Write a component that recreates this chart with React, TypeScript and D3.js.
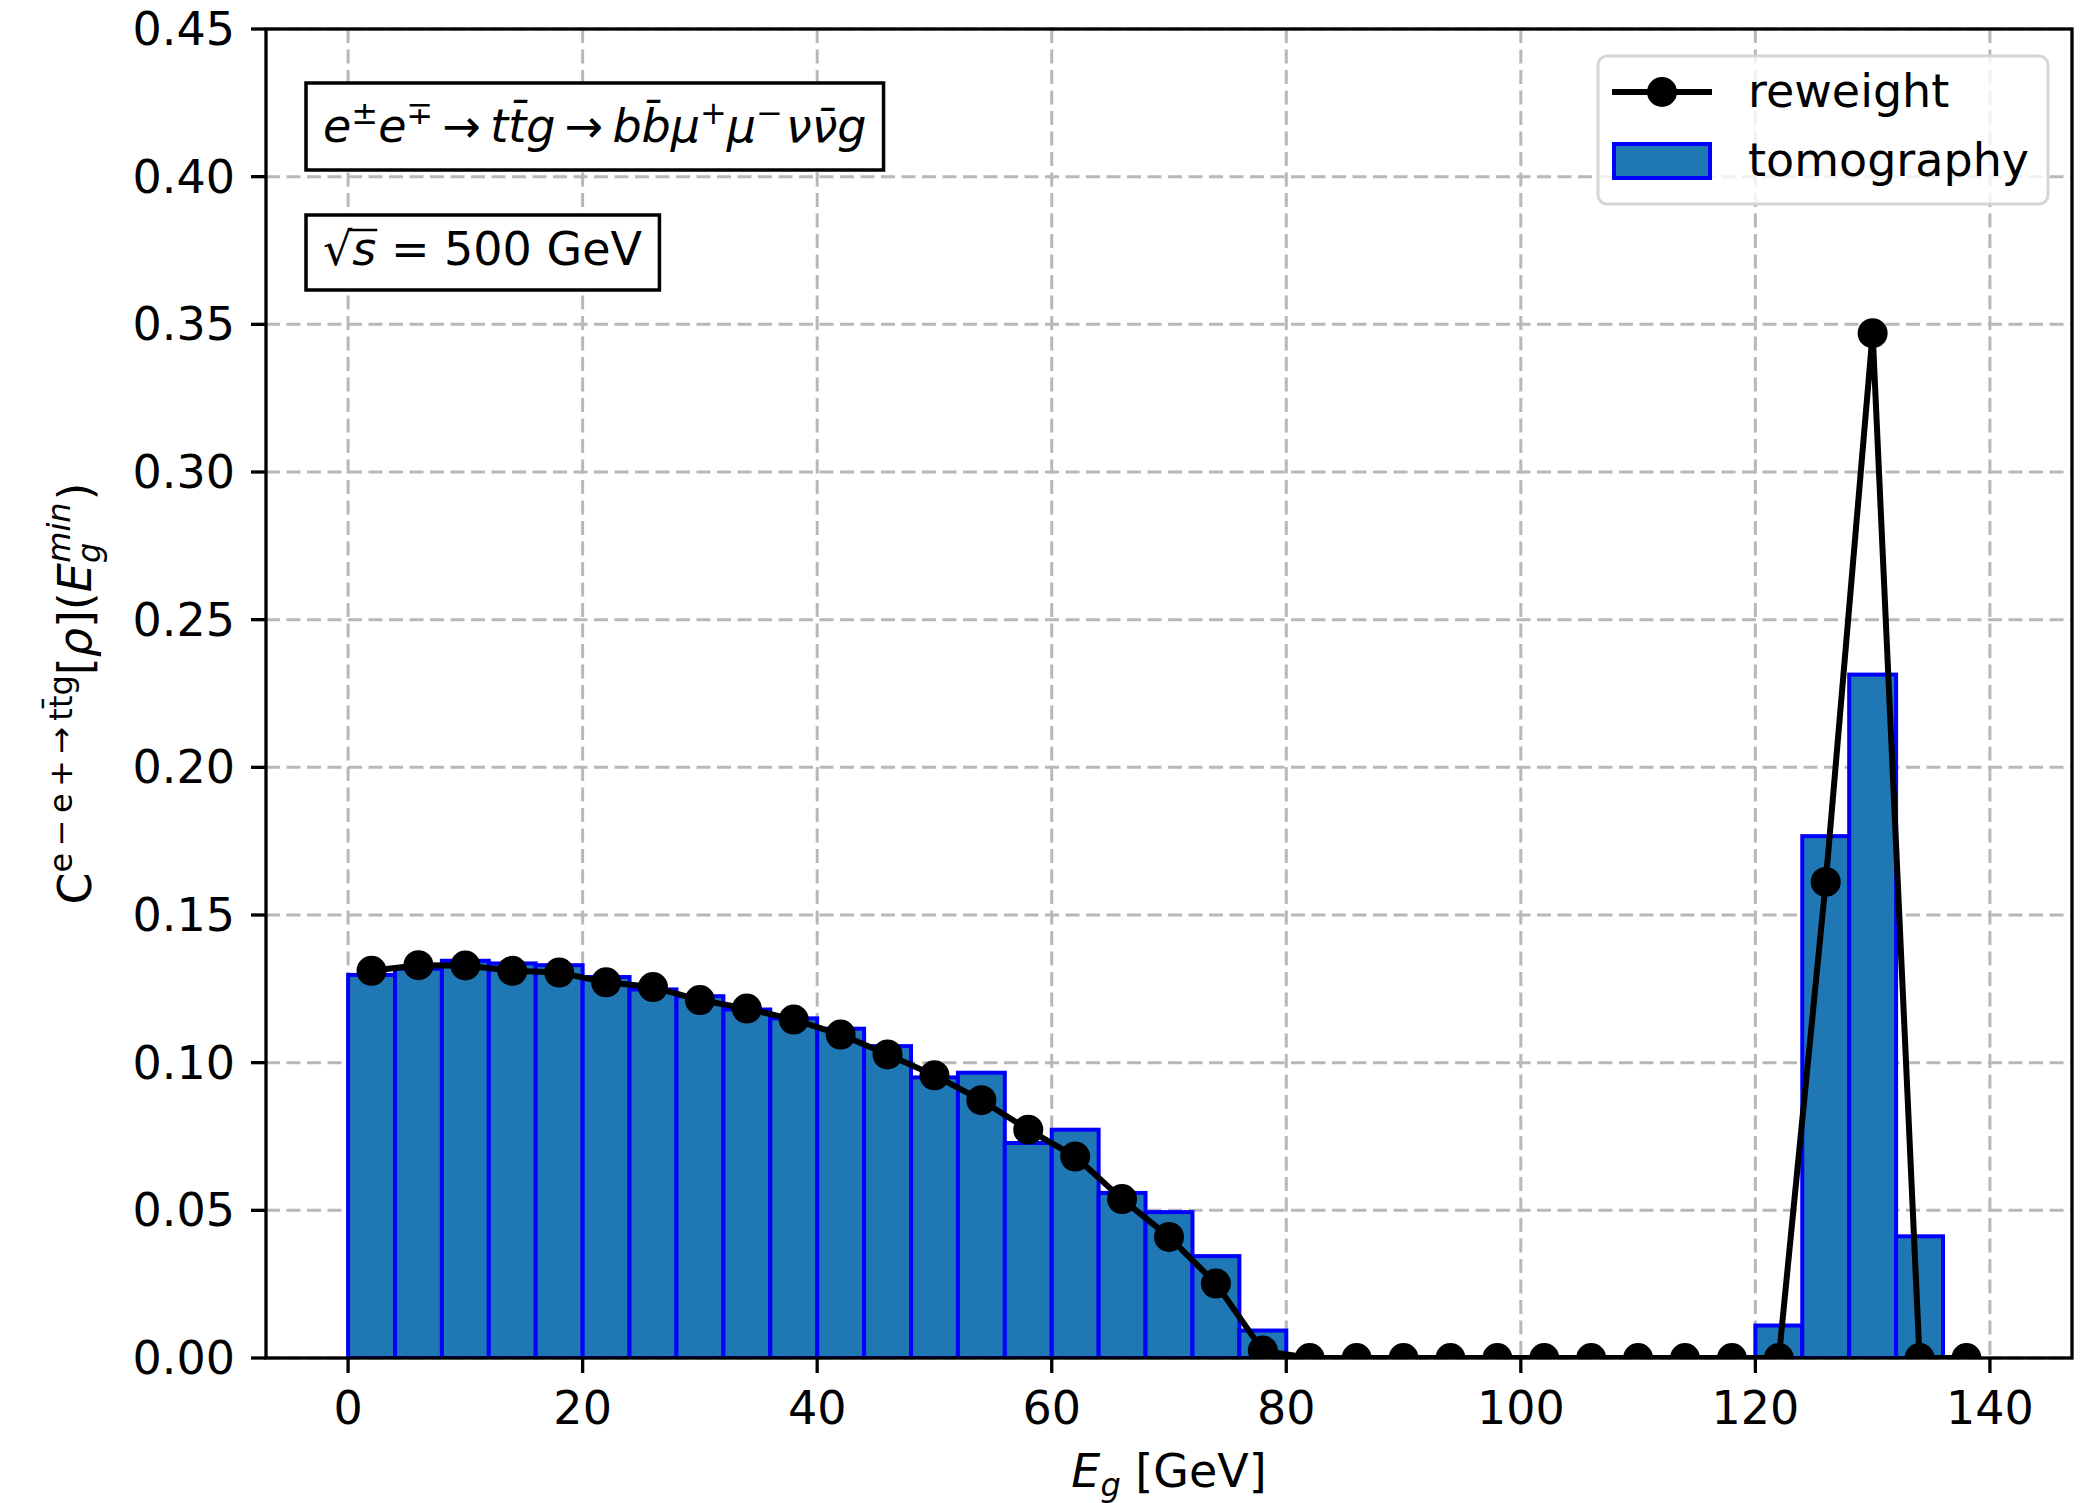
import React, { useLayoutEffect, useRef, useState } from "react";
import * as d3 from "d3";

// ---------- data ----------
const binStarts = [
  0, 4, 8, 12, 16, 20, 24, 28, 32, 36, 40, 44, 48, 52, 56, 60, 64, 68, 72, 76,
  80, 84, 88, 92, 96, 100, 104, 108, 112, 116,
  120, 124, 128, 132, 136,
];
const binWidth = 4;
const tomography = [
  0.1297, 0.1318, 0.1345, 0.1336, 0.133, 0.129, 0.1248, 0.1225, 0.118, 0.115,
  0.1115, 0.1056, 0.095, 0.0966, 0.0728, 0.0773, 0.0559, 0.0494, 0.0345, 0.0093,
  0, 0, 0, 0, 0, 0, 0, 0, 0, 0,
  0.011, 0.1767, 0.2314, 0.0412, 0,
];
const pointX = [
  2, 6, 10, 14, 18, 22, 26, 30, 34, 38, 42, 46, 50, 54, 58, 62, 66, 70, 74, 78,
  82, 86, 90, 94, 98, 102, 106, 110, 114, 118,
  122, 126, 130, 134, 138,
];
const reweight = [
  0.1311, 0.133, 0.1329, 0.1311, 0.1305, 0.1272, 0.1256, 0.1212, 0.1183, 0.1146,
  0.1095, 0.1028, 0.0957, 0.0873, 0.0773, 0.0682, 0.0538, 0.041, 0.0252, 0.0025,
  0, 0, 0, 0, 0, 0, 0, 0, 0, 0,
  0, 0.1612, 0.347, 0, 0,
];
const xTicks = [0, 20, 40, 60, 80, 100, 120, 140];
const yTicks = [0, 0.05, 0.1, 0.15, 0.2, 0.25, 0.3, 0.35, 0.4, 0.45];
const legendLabels = ["reweight", "tomography"];

// ---------- layout ----------
const W = 2090;
const H = 1503;
const M = { left: 266, right: 2072, top: 29, bottom: 1358 };
const FONT = "'DejaVu Sans', sans-serif";
const FS = 46;
const SS = 32;
const BAR_FILL = "#1f77b4";
const BAR_EDGE = "#0000ff";

export default function App() {
  const x = d3.scaleLinear().domain([-7, 147]).range([M.left, M.right]);
  const y = d3.scaleLinear().domain([0, 0.45]).range([M.bottom, M.top]);

  const line = d3
    .line<number>()
    .x((_, i) => x(pointX[i]))
    .y((d) => y(d));

  const t1 = useRef<SVGTextElement>(null);
  const t2 = useRef<SVGTextElement>(null);
  const [w1, setW1] = useState(555);
  const [w2, setW2] = useState(318);
  const [vinc, setVinc] = useState<[number, number]>([345, 370]);
  useLayoutEffect(() => {
    if (t1.current) setW1(t1.current.getBBox().width);
    if (t2.current) {
      setW2(t2.current.getBBox().width);
      try {
        const e0 = t2.current.getExtentOfChar(0);
        const e1 = t2.current.getExtentOfChar(1);
        setVinc([e0.x + e0.width - 3, e1.x + e1.width + 1]);
      } catch (err) {
        /* ignore */
      }
    }
  }, []);

  const pad = 17;
  const boxX = 306;

  return (
    <svg
      width={W}
      height={H}
      style={{ position: "absolute", left: 0, top: 0, display: "block", background: "#fff" }}
      fontFamily={FONT}
    >
      <defs>
        <clipPath id="plotclip">
          <rect x={M.left} y={M.top} width={M.right - M.left} height={M.bottom - M.top} />
        </clipPath>
      </defs>
      <rect x={0} y={0} width={W} height={H} fill="#fff" />

      {/* grid */}
      <g stroke="#b8b8b8" strokeWidth={3} strokeDasharray="14,6.5">
        {xTicks.map((t) => (
          <line key={"gx" + t} x1={x(t)} x2={x(t)} y1={M.top} y2={M.bottom} />
        ))}
        {yTicks.map((t) => (
          <line key={"gy" + t} x1={M.left} x2={M.right} y1={y(t)} y2={y(t)} />
        ))}
      </g>

      {/* bars */}
      <g clipPath="url(#plotclip)">
        {binStarts.map((b, i) =>
          tomography[i] > 0 ? (
            <rect
              key={"b" + i}
              x={x(b)}
              y={y(tomography[i])}
              width={x(b + binWidth) - x(b)}
              height={y(0) - y(tomography[i])}
              fill={BAR_FILL}
              stroke={BAR_EDGE}
              strokeWidth={4}
            />
          ) : null
        )}
      </g>

      {/* line + markers */}
      <g clipPath="url(#plotclip)">
        <path d={line(reweight) || ""} fill="none" stroke="#000" strokeWidth={6} strokeLinejoin="round" />
        {reweight.map((v, i) => (
          <circle key={"p" + i} cx={x(pointX[i])} cy={y(v)} r={15} fill="#000" />
        ))}
      </g>

      {/* spines */}
      <rect
        x={M.left}
        y={M.top}
        width={M.right - M.left}
        height={M.bottom - M.top}
        fill="none"
        stroke="#000"
        strokeWidth={3.3}
      />

      {/* x ticks */}
      <g>
        {xTicks.map((t) => (
          <g key={"xt" + t}>
            <line x1={x(t)} x2={x(t)} y1={M.bottom} y2={M.bottom + 15} stroke="#000" strokeWidth={3.3} />
            <text x={x(t)} y={M.bottom + 66} textAnchor="middle" fontSize={FS} fill="#000">
              {t}
            </text>
          </g>
        ))}
      </g>
      {/* y ticks */}
      <g>
        {yTicks.map((t) => (
          <g key={"yt" + t}>
            <line x1={M.left - 15} x2={M.left} y1={y(t)} y2={y(t)} stroke="#000" strokeWidth={3.3} />
            <text x={M.left - 31} y={y(t) + 16} textAnchor="end" fontSize={FS} fill="#000">
              {d3.format(".2f")(t)}
            </text>
          </g>
        ))}
      </g>

      {/* x label */}
      <text x={(M.left + M.right) / 2} y={1487} textAnchor="middle" fontSize={FS} fill="#000">
        <tspan fontStyle="italic">E</tspan>
        <tspan fontStyle="italic" fontSize={SS} dy={9}>g</tspan>
        <tspan dy={-9}> [GeV]</tspan>
      </text>

      {/* y label */}
      <g transform={`translate(91, ${(M.top + M.bottom) / 2}) rotate(-90)`}>
        <text x={0} y={0} textAnchor="middle" fontSize={FS} fill="#000">
          <tspan>C</tspan>
          <tspan fontSize={SS} dy={-19}>{"e\u2009\u2212\u2009e\u2009+\u2009\u2192\u2009tt\u0304g"}</tspan>
          <tspan dy={19}>[</tspan>
          <tspan fontStyle="italic">ρ</tspan>
          <tspan>](</tspan>
          <tspan fontStyle="italic">E</tspan>
          <tspan fontStyle="italic" fontSize={SS} dy={9}>g</tspan>
          <tspan fontStyle="italic" fontSize={SS} dx={-20} dy={-30}>min</tspan>
          <tspan dy={21} dx={2}>)</tspan>
        </text>
      </g>

      {/* annotation box 1 */}
      <rect x={boxX} y={83} width={w1 + 2 * pad} height={87} fill="#fff" stroke="#000" strokeWidth={3.5} />
      <text ref={t1} x={boxX + pad} y={142} fontSize={FS} fill="#000">
        <tspan fontStyle="italic">e</tspan>
        <tspan fontSize={SS} dy={-18}>±</tspan>
        <tspan fontStyle="italic" dy={18}>e</tspan>
        <tspan fontSize={SS} dy={-18}>∓</tspan>
        <tspan dy={18}>{"\u2009\u2192\u2009"}</tspan>
        <tspan fontStyle="italic">{"tt\u0304g"}</tspan>
        <tspan>{"\u2009\u2192\u2009"}</tspan>
        <tspan fontStyle="italic">{"bb\u0304μ"}</tspan>
        <tspan fontSize={SS} dy={-18}>+</tspan>
        <tspan fontStyle="italic" dy={18}>μ</tspan>
        <tspan fontSize={SS} dy={-18}>{"\u2212"}</tspan>
        <tspan fontStyle="italic" dy={18} dx={3}>{"νν\u0304g"}</tspan>
      </text>

      {/* annotation box 2 */}
      <rect x={boxX} y={215} width={w2 + 2 * pad} height={75} fill="#fff" stroke="#000" strokeWidth={3.5} />
      <text ref={t2} x={boxX + pad} y={265} fontSize={FS} fill="#000">
        <tspan>√</tspan>
        <tspan fontStyle="italic">s</tspan>
        <tspan>{" = 500 GeV"}</tspan>
      </text>
      <line x1={vinc[0]} x2={vinc[1]} y1={230} y2={230} stroke="#000" strokeWidth={2.5} />

      {/* legend */}
      <g>
        <rect x={1598} y={56} width={450} height={148} rx={9} fill="#fff" fillOpacity={0.8} stroke="#d6d6d6" strokeWidth={3} />
        <line x1={1612} x2={1712} y1={92} y2={92} stroke="#000" strokeWidth={6} />
        <circle cx={1662} cy={92} r={15} fill="#000" />
        <text x={1748} y={107} fontSize={FS} fill="#000">{legendLabels[0]}</text>
        <rect x={1614} y={144} width={96} height={34} fill={BAR_FILL} stroke={BAR_EDGE} strokeWidth={4} />
        <text x={1748} y={176} fontSize={FS} fill="#000">{legendLabels[1]}</text>
      </g>
    </svg>
  );
}
